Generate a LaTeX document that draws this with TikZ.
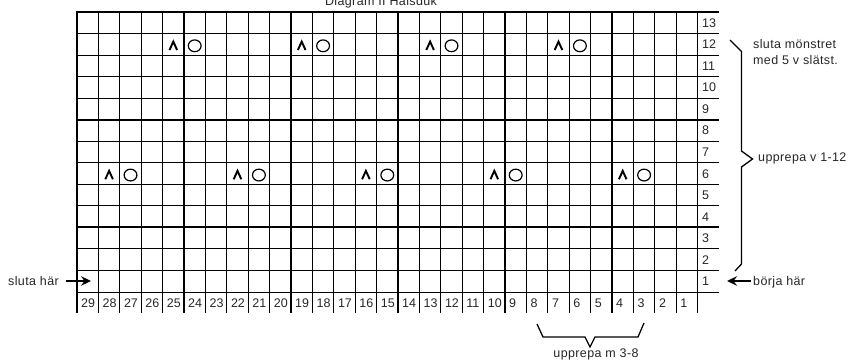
\documentclass[tikz,border=0pt]{standalone}
\usepackage{fontspec}
\setmainfont{Liberation Sans}
\newfontfamily\lbl[LetterSpace=3]{Liberation Sans}
\usetikzlibrary{arrows.meta}
\begin{document}
\begin{tikzpicture}[x=1pt,y=-1pt,
  thingrid/.style={line width=0.9pt, black},
  thickgrid/.style={line width=2pt, black},
  numlabel/.style={anchor=base west, inner sep=0pt, font=\fontsize{12.5}{14}\selectfont, text=black!85},
  txt/.style={anchor=base west, inner sep=0pt, font=\lbl\fontsize{12.5}{14}\selectfont, text=black!85},
  knit/.style={line width=1.9pt, line join=miter, line cap=butt},
  yo/.style={line width=1.2pt},
  bracket/.style={line width=1.3pt, line join=miter},
  pointer/.style={line width=2pt, -{Stealth[length=10pt,width=9.5pt,inset=3.5pt]}}
]
\useasboundingbox (0,0) rectangle (849,363);
\def\cw{21.4}
\def\rh{21.54}
% grid: thin lines
\foreach \j in {0,...,13} \draw[thingrid] (77,{12+\j*\rh}) -- (719,{12+\j*\rh});
\foreach \i in {0,...,29} \draw[thingrid] ({77+\i*\cw},12) -- ({77+\i*\cw},313.5);
% grid: thick lines
\foreach \j in {0,5,10} \draw[thickgrid] (76,{12+\j*\rh}) -- (719,{12+\j*\rh});
\foreach \i in {0,5,10,15,20,25} \draw[thickgrid] ({77+\i*\cw},11) -- ({77+\i*\cw},313.5);
% column numbers
\foreach \k in {1,...,29} \node[numlabel] (c\k) at ({77+(29-\k)*\cw+4},307.2) {\k};
% row numbers
\foreach \r in {1,...,13} \node[numlabel] (r\r) at (702,{12+(13-\r+0.5)*\rh+4.5}) {\r};
% symbols
\foreach \k/\r in {25/12,19/12,13/12,7/12,28/6,22/6,16/6,10/6,4/6} {
  \pgfmathsetmacro{\cx}{77+(29-\k+0.5)*\cw}
  \pgfmathsetmacro{\ox}{\cx+\cw}
  \pgfmathsetmacro{\cy}{12+(13-\r+0.5)*\rh+1.5}
  \draw[knit] (\cx-3.8,\cy+4.2) -- (\cx,\cy-4.2) -- (\cx+3.8,\cy+4.2);
  \draw[yo] (\ox,\cy) ellipse [x radius=6.4, y radius=5.9];
}
% title (partly outside the page, as in the reference)
\node[txt, anchor=base] (title) at (381,5.5) {Diagram II Halsduk};
% left label and arrow
\node[txt] (sluta) at (8,285.5) {sluta här};
\coordinate (sa) at (66,281);
\coordinate (sb) at (91,281);
\draw[pointer] (sa) -- (sb);
% right labels
\node[txt] (borja) at (753,285.5) {börja här};
\coordinate (ba) at (751,281);
\coordinate (bb) at (727,281);
\draw[pointer] (ba) -- (bb);
\node[txt] (slutm1) at (753,48.5) {sluta mönstret};
\node[txt] (slutm2) at (753,64.5) {med 5 v slätst.};
\node[txt] (upv) at (758,161.5) {upprepa v 1-12};
% right bracket
\coordinate (q1) at (730,40);
\coordinate (q2) at (741.5,51.5);
\coordinate (q3) at (741.5,151);
\coordinate (q4) at (752.5,159);
\coordinate (q5) at (741.5,167);
\coordinate (q6) at (741.5,264);
\coordinate (q7) at (735,271);
\draw[bracket] (q1) -- (q2) -- (q3) -- (q4) -- (q5) -- (q6) -- (q7);
% bottom bracket
\coordinate (p1) at (537,324);
\coordinate (p2) at (543,337);
\coordinate (p3) at (585,337);
\coordinate (p4) at (590,347);
\coordinate (p5) at (595,337);
\coordinate (p6) at (638,337);
\coordinate (p7) at (644,323);
\draw[bracket] (p1) -- (p2) -- (p3) -- (p4) -- (p5) -- (p6) -- (p7);
\node[txt, anchor=base] (upm) at (596,357.5) {upprepa m 3-8};
\end{tikzpicture}
\end{document}
